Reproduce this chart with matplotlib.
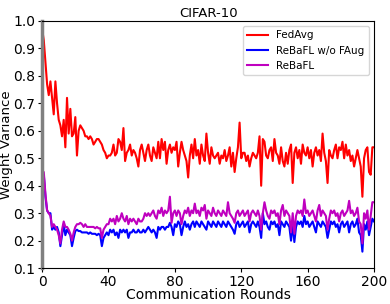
import matplotlib
matplotlib.use("Agg")
import matplotlib.pyplot as plt

# weight variance per communication round
fedavg = [0.97, 0.93, 0.85, 0.77, 0.73, 0.78, 0.72, 0.66, 0.78, 0.70,
          0.64, 0.62, 0.58, 0.64, 0.54, 0.72, 0.59, 0.68, 0.58, 0.59,
          0.65, 0.51, 0.60, 0.62, 0.61, 0.60, 0.58, 0.58, 0.57, 0.58,
          0.57, 0.55, 0.56, 0.57, 0.57, 0.56, 0.55, 0.53, 0.52, 0.50,
          0.51, 0.51, 0.52, 0.55, 0.51, 0.52, 0.57, 0.56, 0.53, 0.61,
          0.49, 0.52, 0.53, 0.55, 0.51, 0.53, 0.52, 0.50, 0.47, 0.53,
          0.55, 0.52, 0.49, 0.53, 0.55, 0.51, 0.49, 0.54, 0.52, 0.50,
          0.56, 0.50, 0.57, 0.53, 0.56, 0.48, 0.53, 0.55, 0.52, 0.54,
          0.53, 0.56, 0.47, 0.52, 0.56, 0.53, 0.51, 0.49, 0.43, 0.51,
          0.55, 0.50, 0.57, 0.51, 0.53, 0.48, 0.55, 0.51, 0.49, 0.59,
          0.52, 0.48, 0.54, 0.51, 0.50, 0.51, 0.52, 0.48, 0.51, 0.50,
          0.53, 0.49, 0.51, 0.54, 0.47, 0.52, 0.45, 0.50, 0.54, 0.63,
          0.50, 0.52, 0.52, 0.49, 0.51, 0.47, 0.50, 0.52, 0.51, 0.50,
          0.52, 0.58, 0.40, 0.57, 0.56, 0.51, 0.50, 0.53, 0.54, 0.49,
          0.57, 0.52, 0.51, 0.48, 0.54, 0.49, 0.47, 0.52, 0.48, 0.53,
          0.55, 0.41, 0.52, 0.54, 0.50, 0.53, 0.48, 0.55, 0.52, 0.51,
          0.54, 0.50, 0.53, 0.47, 0.52, 0.54, 0.51, 0.53, 0.49, 0.59,
          0.52, 0.49, 0.41, 0.53, 0.51, 0.50, 0.53, 0.55, 0.50, 0.54,
          0.53, 0.56, 0.50, 0.55, 0.51, 0.53, 0.49, 0.51, 0.47, 0.50,
          0.53, 0.50, 0.47, 0.36, 0.50, 0.53, 0.54, 0.45, 0.44, 0.54,
          0.54]

rebafl_no_faug = [0.41, 0.44, 0.36, 0.31, 0.30, 0.30, 0.24, 0.25, 0.24, 0.25,
                  0.23, 0.18, 0.22, 0.26, 0.22, 0.24, 0.23, 0.22, 0.18, 0.21,
                  0.235, 0.24, 0.235, 0.235, 0.23, 0.23, 0.23, 0.23, 0.225, 0.23,
                  0.225, 0.225, 0.225, 0.22, 0.225, 0.22, 0.18, 0.21, 0.22, 0.23,
                  0.22, 0.24, 0.23, 0.24, 0.22, 0.23, 0.21, 0.24, 0.23, 0.24,
                  0.23, 0.24, 0.21, 0.23, 0.23, 0.24, 0.23, 0.23, 0.24, 0.23,
                  0.23, 0.24, 0.23, 0.24, 0.25, 0.24, 0.23, 0.24, 0.23, 0.21,
                  0.25, 0.24, 0.25, 0.25, 0.24, 0.25, 0.25, 0.265, 0.25, 0.22,
                  0.26, 0.25, 0.27, 0.26, 0.22, 0.25, 0.27, 0.25, 0.26, 0.24,
                  0.26, 0.27, 0.25, 0.27, 0.26, 0.25, 0.27, 0.26, 0.25, 0.24,
                  0.27, 0.26, 0.25, 0.27, 0.26, 0.25, 0.27, 0.26, 0.25, 0.27,
                  0.26, 0.25, 0.27, 0.26, 0.25, 0.24, 0.225, 0.26, 0.27, 0.25,
                  0.26, 0.27, 0.25, 0.26, 0.27, 0.23, 0.26, 0.27, 0.26, 0.25,
                  0.27, 0.25, 0.21, 0.30, 0.26, 0.27, 0.25, 0.24, 0.27, 0.26,
                  0.27, 0.25, 0.26, 0.22, 0.27, 0.26, 0.25, 0.27, 0.26, 0.25,
                  0.20, 0.26, 0.195, 0.25, 0.27, 0.26, 0.27, 0.25, 0.29, 0.26,
                  0.27, 0.25, 0.26, 0.27, 0.25, 0.23, 0.27, 0.26, 0.25, 0.27,
                  0.26, 0.25, 0.21, 0.24, 0.27, 0.26, 0.27, 0.25, 0.26, 0.23,
                  0.26, 0.27, 0.25, 0.26, 0.27, 0.23, 0.26, 0.27, 0.25, 0.26,
                  0.28, 0.23, 0.22, 0.16, 0.26, 0.24, 0.27, 0.22, 0.25, 0.28,
                  0.27]

rebafl = [0.42, 0.45, 0.37, 0.31, 0.30, 0.29, 0.25, 0.26, 0.25, 0.24,
          0.22, 0.19, 0.24, 0.27, 0.25, 0.25, 0.24, 0.225, 0.20, 0.23,
          0.25, 0.26, 0.26, 0.265, 0.26, 0.25, 0.26, 0.25, 0.25, 0.25,
          0.25, 0.25, 0.245, 0.25, 0.245, 0.245, 0.21, 0.24, 0.25, 0.26,
          0.26, 0.28, 0.27, 0.28, 0.26, 0.29, 0.27, 0.28, 0.30, 0.28,
          0.27, 0.29, 0.26, 0.28, 0.27, 0.28, 0.27, 0.26, 0.28, 0.27,
          0.27, 0.28, 0.30, 0.29, 0.30, 0.29, 0.30, 0.31, 0.29, 0.28,
          0.31, 0.30, 0.32, 0.29, 0.31, 0.30, 0.31, 0.36, 0.265, 0.30,
          0.31, 0.29, 0.31, 0.30, 0.26, 0.29, 0.31, 0.30, 0.32, 0.29,
          0.31, 0.30, 0.335, 0.30, 0.31, 0.29, 0.32, 0.31, 0.33, 0.28,
          0.31, 0.30, 0.29, 0.32, 0.30, 0.29, 0.31, 0.30, 0.29, 0.31,
          0.30, 0.29, 0.34, 0.30, 0.29, 0.28, 0.265, 0.30, 0.31, 0.29,
          0.30, 0.31, 0.29, 0.30, 0.31, 0.27, 0.30, 0.31, 0.30, 0.29,
          0.31, 0.29, 0.24, 0.30, 0.34, 0.31, 0.29, 0.28, 0.31, 0.30,
          0.31, 0.29, 0.30, 0.26, 0.31, 0.33, 0.29, 0.31, 0.30, 0.29,
          0.23, 0.30, 0.225, 0.29, 0.31, 0.30, 0.31, 0.29, 0.35, 0.30,
          0.31, 0.29, 0.30, 0.31, 0.29, 0.27, 0.31, 0.33, 0.29, 0.31,
          0.30, 0.29, 0.24, 0.28, 0.31, 0.30, 0.31, 0.29, 0.30, 0.27,
          0.30, 0.31, 0.29, 0.30, 0.31, 0.345, 0.30, 0.31, 0.29, 0.30,
          0.32, 0.27, 0.26, 0.19, 0.30, 0.28, 0.31, 0.24, 0.29, 0.34,
          0.34]

rounds = list(range(len(fedavg)))
xticks = [0, 40, 80, 120, 160, 200]
yticks = [0.1, 0.2, 0.3, 0.4, 0.5, 0.6, 0.7, 0.8, 0.9, 1.0]

fig = plt.figure(figsize=(3.9, 3.04), dpi=100)
ax = fig.add_axes([0.108, 0.118, 0.851, 0.813])

ax.plot(rounds, fedavg, color="red", lw=1.5, label="FedAvg")
ax.plot(rounds, rebafl_no_faug, color="blue", lw=1.5, label="ReBaFL w/o FAug")
ax.plot(rounds, rebafl, color="m", lw=1.5, label="ReBaFL")

ax.set_xlim(0, 200)
ax.set_ylim(0.1, 1.0)
ax.set_xticks(xticks)
ax.set_yticks(yticks)
ax.tick_params(labelsize=10, length=3, pad=2)
ax.spines["left"].set_color("gray")
ax.spines["left"].set_linewidth(2.5)

ax.set_title("CIFAR-10", fontsize=9.5, pad=3)
ax.set_xlabel("Communication Rounds", fontsize=10, labelpad=-1)
ax.set_ylabel("Weight Variance", fontsize=9.5)
ax.yaxis.set_label_coords(-0.088, 0.5)
ax.legend(loc="upper right", fontsize=7.5)

fig.savefig("out.png", dpi=100)
